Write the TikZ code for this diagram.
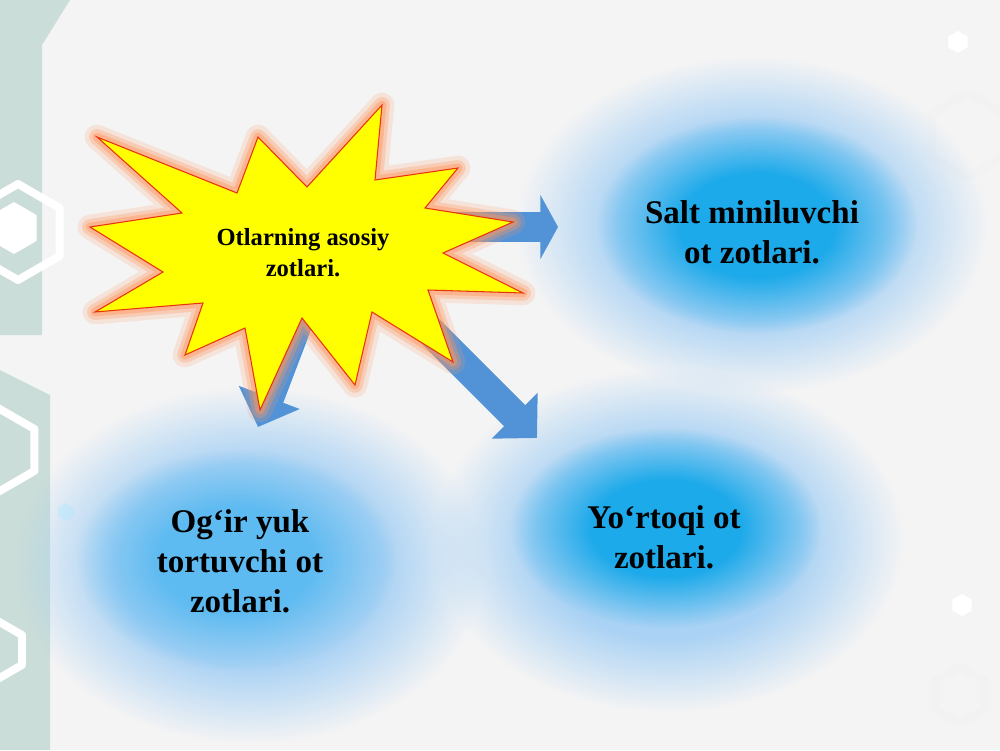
\documentclass[tikz,border=0pt]{standalone}
\usepackage{fontspec}
\setmainfont{Liberation Serif}
\usetikzlibrary{arrows.meta,calc,fadings}

\definecolor{paper}{HTML}{F4F4F4}
\definecolor{hexteal}{HTML}{CADDD8}
\definecolor{haze}{HTML}{A9D2F4}
\definecolor{core}{HTML}{1DAAEA}
\definecolor{corepale}{HTML}{5EBBF1}
\definecolor{arrowblue}{HTML}{5292D7}
\definecolor{staryellow}{HTML}{FFFF00}
\definecolor{starred}{HTML}{E8340C}
\definecolor{glow}{HTML}{FF9860}

\pgfdeclareradialshading{softshade}{\pgfpoint{0bp}{0bp}}%
  {color(0bp)=(white); color(12bp)=(white); color(25bp)=(black); color(50bp)=(black)}
\pgfdeclarefading{softedge}{\pgfuseshading{softshade}}
\pgfdeclareradialshading{hazeshade}{\pgfpoint{0bp}{0bp}}%
  {color(0bp)=(white); color(14bp)=(white); color(25bp)=(black); color(50bp)=(black)}
\pgfdeclarefading{hazeedge}{\pgfuseshading{hazeshade}}

\pgfdeclarelayer{front}
\pgfsetlayers{main,front}

\newcommand\hexat[2]{#1 +(30:#2) -- +(90:#2) -- +(150:#2) -- +(210:#2) -- +(270:#2) -- +(330:#2) -- cycle}
\def\starpath{(97,137) -- (237,193) -- (258,137) -- (307,187) -- (382,105) -- (375,180)
  -- (458,168) -- (425,208) -- (513,222) -- (443,253) -- (523,293) -- (428,290)
  -- (453,362) -- (372,312) -- (355,385) -- (302,318) -- (260,410) -- (245,328)
  -- (185,355) -- (203,303) -- (95,312) -- (163,272) -- (90,227) -- (182,213) -- cycle}

\begin{document}
\begin{tikzpicture}[x=0.2mm, y=-0.2mm,
  zot/.style={align=center, font=\bfseries\fontsize{18.8}{22.7}\selectfont},
  haze/.style={fill=haze, path fading=hazeedge},
  blob/.style={fill=#1, path fading=softedge},
  glowline/.style={draw=glow, line join=round, line cap=round},
  bigarrow/.style={draw=arrowblue, line width=17pt, -{Triangle[width=36pt,length=#1]}},
  bigarrow/.default=18pt,
  hexline/.style={draw=white, line width=4.5pt, line join=round}]
  \useasboundingbox (0,0) rectangle (1000,750);
  \fill[paper] (0,0) rectangle (1000,750);

  % side decoration
  \fill[hexteal] (0,0) -- (70,0) -- (42,45) -- (42,335) -- (0,335) -- cycle;
  \fill[hexteal] (0,370) -- (50,395) -- (50,750) -- (0,750) -- cycle;
  \draw[hexline] \hexat{(18,232)}{48};
  \fill[white] \hexat{(14,228)}{26};
  \draw[hexline] \hexat{(-2,450)}{42};
  \draw[hexline] \hexat{(-4,650)}{30};
  \draw[hexline, draw=white!90!gray] \hexat{(968,135)}{42};
  \draw[hexline, draw=white!90!gray] \hexat{(960,695)}{28};
  \fill[white] \hexat{(958,42)}{11};
  \fill[white] \hexat{(962,605)}{11};
  \fill[white!85!cyan] \hexat{(66,512)}{9};

  % blurred clouds
  \fill[haze] (752,225) ellipse (235 and 168);
  \fill[blob=core] (757,225) ellipse (160 and 108);
  \fill[haze] (250,565) ellipse (235 and 178);
  \fill[blob=corepale] (236,560) ellipse (160 and 110);
  \fill[haze] (668,540) ellipse (235 and 172);
  \fill[blob=core] (666,528) ellipse (155 and 100);

  \node[zot] (salt) at (752,232) {Salt miniluvchi\\ot zotlari.};
  \node[zot] (ogir) at (240,561) {Og‘ir yuk\\tortuvchi ot\\zotlari.};
  \node[zot] (yortoqi) at (664,537) {Yo‘rtoqi ot\\zotlari.};

  \begin{pgfonlayer}{front}
    \foreach \w/\o in {14/0.18, 9/0.3, 5/0.45}
      \path[glowline, line width=\w pt, opacity=\o] \starpath;
    \filldraw[fill=staryellow, draw=starred, line width=0.6pt] \starpath;
    \node[align=center, font=\bfseries\fontsize{14}{17.6}\selectfont] (star) at (303,253)
      {Otlarning asosiy\\zotlari.};
  \end{pgfonlayer}

  \coordinate (tipS) at (558,227);
  \coordinate (tipY) at (537,438);
  \coordinate (tipO) at (258,427);
  \draw[bigarrow=10pt] ($(star.center)+(0,-26)$) -- (tipS);
  \draw[bigarrow=18pt] ($(star.center)+(27,-22)$) -- (tipY);
  \draw[bigarrow=18pt] ($(star.center)+(19,6)$) -- (tipO);
\end{tikzpicture}
\end{document}
